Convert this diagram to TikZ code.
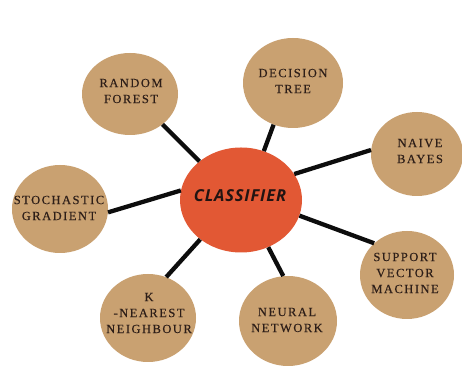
\documentclass[tikz,border=0pt]{standalone}
\usepackage{fontspec}
\setmainfont{Liberation Serif}
\newfontfamily\satfont[LetterSpace=12,FakeBold=0.3]{Liberation Serif}
\newfontfamily\hubfont[LetterSpace=5]{Open Sans}
\usetikzlibrary{shapes.geometric}
\definecolor{sattan}{RGB}{201,161,113}
\definecolor{huborange}{RGB}{226,88,52}
\definecolor{txtbrown}{RGB}{45,30,24}
\definecolor{hubtxt}{RGB}{34,20,18}
\begin{document}
\begin{tikzpicture}[x=1pt,y=1pt,
  sat/.style={ellipse, fill=sattan, inner sep=0pt},
  sattext/.style={align=center, inner sep=0pt, text=txtbrown,
    font=\satfont\fontsize{12.5}{16}\selectfont},
  hub/.style={ellipse, fill=huborange, inner sep=0pt, minimum width=122pt, minimum height=105pt},
  hubtext/.style={inner sep=0pt, text=hubtxt, font=\hubfont\bfseries\itshape\fontsize{16.5}{18}\selectfont},
  link/.style={line width=4.3pt, draw=black!95}]
\useasboundingbox (0,0) rectangle (462,379);
\fill[white] (0,0) rectangle (462,379);

\node[hub] (hub) at (241,179) {};
\node[hubtext] (hubt) at (240,183) {CLASSIFIER};

\node[sat, minimum width=96pt, minimum height=82pt] (rf) at (130,285) {};
\node[sattext] (rft) at (131,288) {RANDOM\\FOREST};

\node[sat, minimum width=100pt, minimum height=90pt] (dt) at (293,296) {};
\node[sattext] (dtt) at (293,298) {DECISION\\TREE};

\node[sat, minimum width=92pt, minimum height=84pt] (nb) at (417,225) {};
\node[sattext] (nbt) at (420,228) {NAIVE\\BAYES};

\node[sat, minimum width=96pt, minimum height=88pt] (sg) at (60,170) {};
\node[sattext] (sgt) at (59,171) {STOCHASTIC\\GRADIENT};

\node[sat, minimum width=94pt, minimum height=88pt] (svm) at (407,104) {};
\node[sattext] (svmt) at (405,106) {SUPPORT\\VECTOR\\MACHINE};

\node[sat, minimum width=96pt, minimum height=88pt] (knn) at (148,61) {};
\node[sattext] (knnt) at (149,66) {K\\-NEAREST\\NEIGHBOUR};

\node[sat, minimum width=98pt, minimum height=90pt] (nn) at (288,58) {};
\node[sattext] (nnt) at (287,59) {NEURAL\\NETWORK};

\draw[link] (hub.137.7) -- (rf.-43);
\draw[link] (hub.65) -- (dt.245.7);
\draw[link] (hub.26) -- (nb.175);
\draw[link] (hub.171.5) -- (sg.-4.8);
\draw[link] (hub.-15) -- (svm.136.6);
\draw[link] (hub.224) -- (knn.66);
\draw[link] (hub.-60.6) -- (nn.96.5);
\end{tikzpicture}
\end{document}
